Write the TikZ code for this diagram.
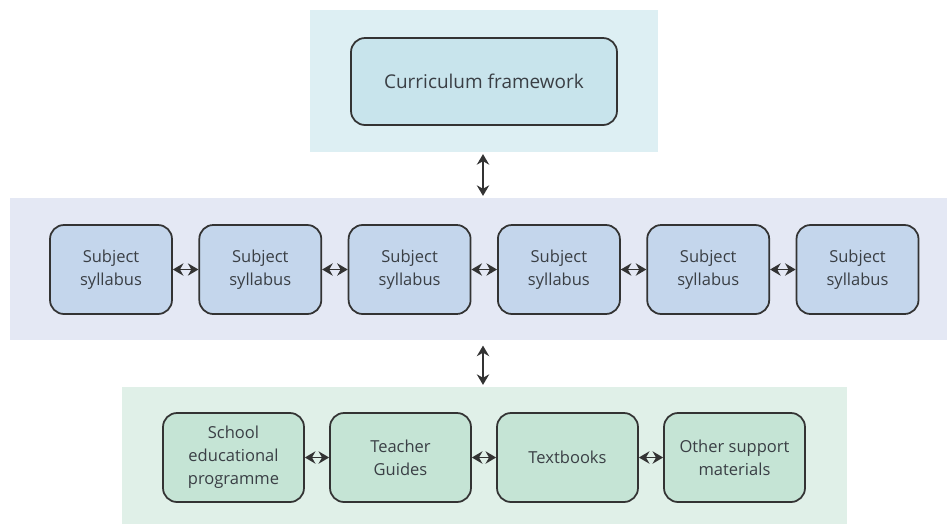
\documentclass[tikz,border=0pt]{standalone}
\usepackage{fontspec}
\setmainfont{Open Sans}
\usepackage{tikz}
\usetikzlibrary{arrows.meta,positioning,calc}

\definecolor{bandtop}{HTML}{DDEFF3}
\definecolor{boxtop}{HTML}{C8E4EC}
\definecolor{bandmid}{HTML}{E4E8F4}
\definecolor{boxmid}{HTML}{C4D6EC}
\definecolor{bandlow}{HTML}{E0F0E8}
\definecolor{boxlow}{HTML}{C5E4D5}
\definecolor{edge}{HTML}{333333}
\definecolor{ink}{HTML}{3A3F45}

\tikzset{
  band/.style={rectangle,inner sep=0pt,draw=none},
  item/.style={rectangle,rounded corners=0.28cm,draw=edge,line width=1pt,
    inner sep=0pt,align=center,text=ink,font=\fontsize{9.4}{13}\selectfont},
  syllabus/.style={item,fill=boxmid,minimum width=2.44cm,minimum height=1.78cm},
  material/.style={item,fill=boxlow,minimum width=2.82cm,minimum height=1.78cm},
  link/.style={{Stealth[length=6pt,width=7pt]}-{Stealth[length=6pt,width=7pt]},
    line width=1pt,edge}
}

\begin{document}
\begin{tikzpicture}[x=0.02cm,y=-0.02cm]
      \useasboundingbox (0,0) rectangle (947,525);
      % background bands
      \node[band,fill=bandtop,minimum width=6.96cm,minimum height=2.84cm]
      (top) at (484,81) {};
      \node[band,fill=bandmid,minimum width=18.74cm,minimum height=2.84cm]
      (mid) at (478.5,269) {};
      \node[band,fill=bandlow,minimum width=14.5cm,minimum height=2.74cm]
      (low) at (484.5,455.5) {};
      % framework
      \node[item,fill=boxtop,minimum width=5.32cm,minimum height=1.74cm,
      font=\fontsize{10.8}{13}\selectfont] (frame) at (484,81.5) {Curriculum framework};
      % syllabi
      \node[syllabus] (s1) at (111,269.5) {Subject\\syllabus};
      \node[syllabus] (s2) at (260.3,269.5) {Subject\\syllabus};
      \node[syllabus] (s3) at (409.6,269.5) {Subject\\syllabus};
      \node[syllabus] (s4) at (558.9,269.5) {Subject\\syllabus};
      \node[syllabus] (s5) at (708.2,269.5) {Subject\\syllabus};
      \node[syllabus] (s6) at (857.5,269.5) {Subject\\syllabus};
      \draw[link] (s1.east) -- (s2.west);
      \draw[link] (s2.east) -- (s3.west);
      \draw[link] (s3.east) -- (s4.west);
      \draw[link] (s4.east) -- (s5.west);
      \draw[link] (s5.east) -- (s6.west);
      % school level
      \node[material] (prog) at (233.5,457.5) {School\\educational\\programme};
      \node[material] (guide) at (400.5,457.5) {Teacher\\Guides};
      \node[material] (text) at (567.5,457.5) {Textbooks};
      \node[material] (other) at (734.5,457.5) {Other support\\materials};
      \draw[link] (prog.east) -- (guide.west);
      \draw[link] (guide.east) -- (text.west);
      \draw[link] (text.east) -- (other.west);
      % between the levels
      \draw[link,shorten <=1pt,shorten >=1pt] (top.south -| 483,0) -- (mid.north -| 483,0);
      \draw[link,shorten <=3pt,shorten >=1pt] (mid.south -| 483,0) -- (low.north -| 483,0);
\end{tikzpicture}
\end{document}
